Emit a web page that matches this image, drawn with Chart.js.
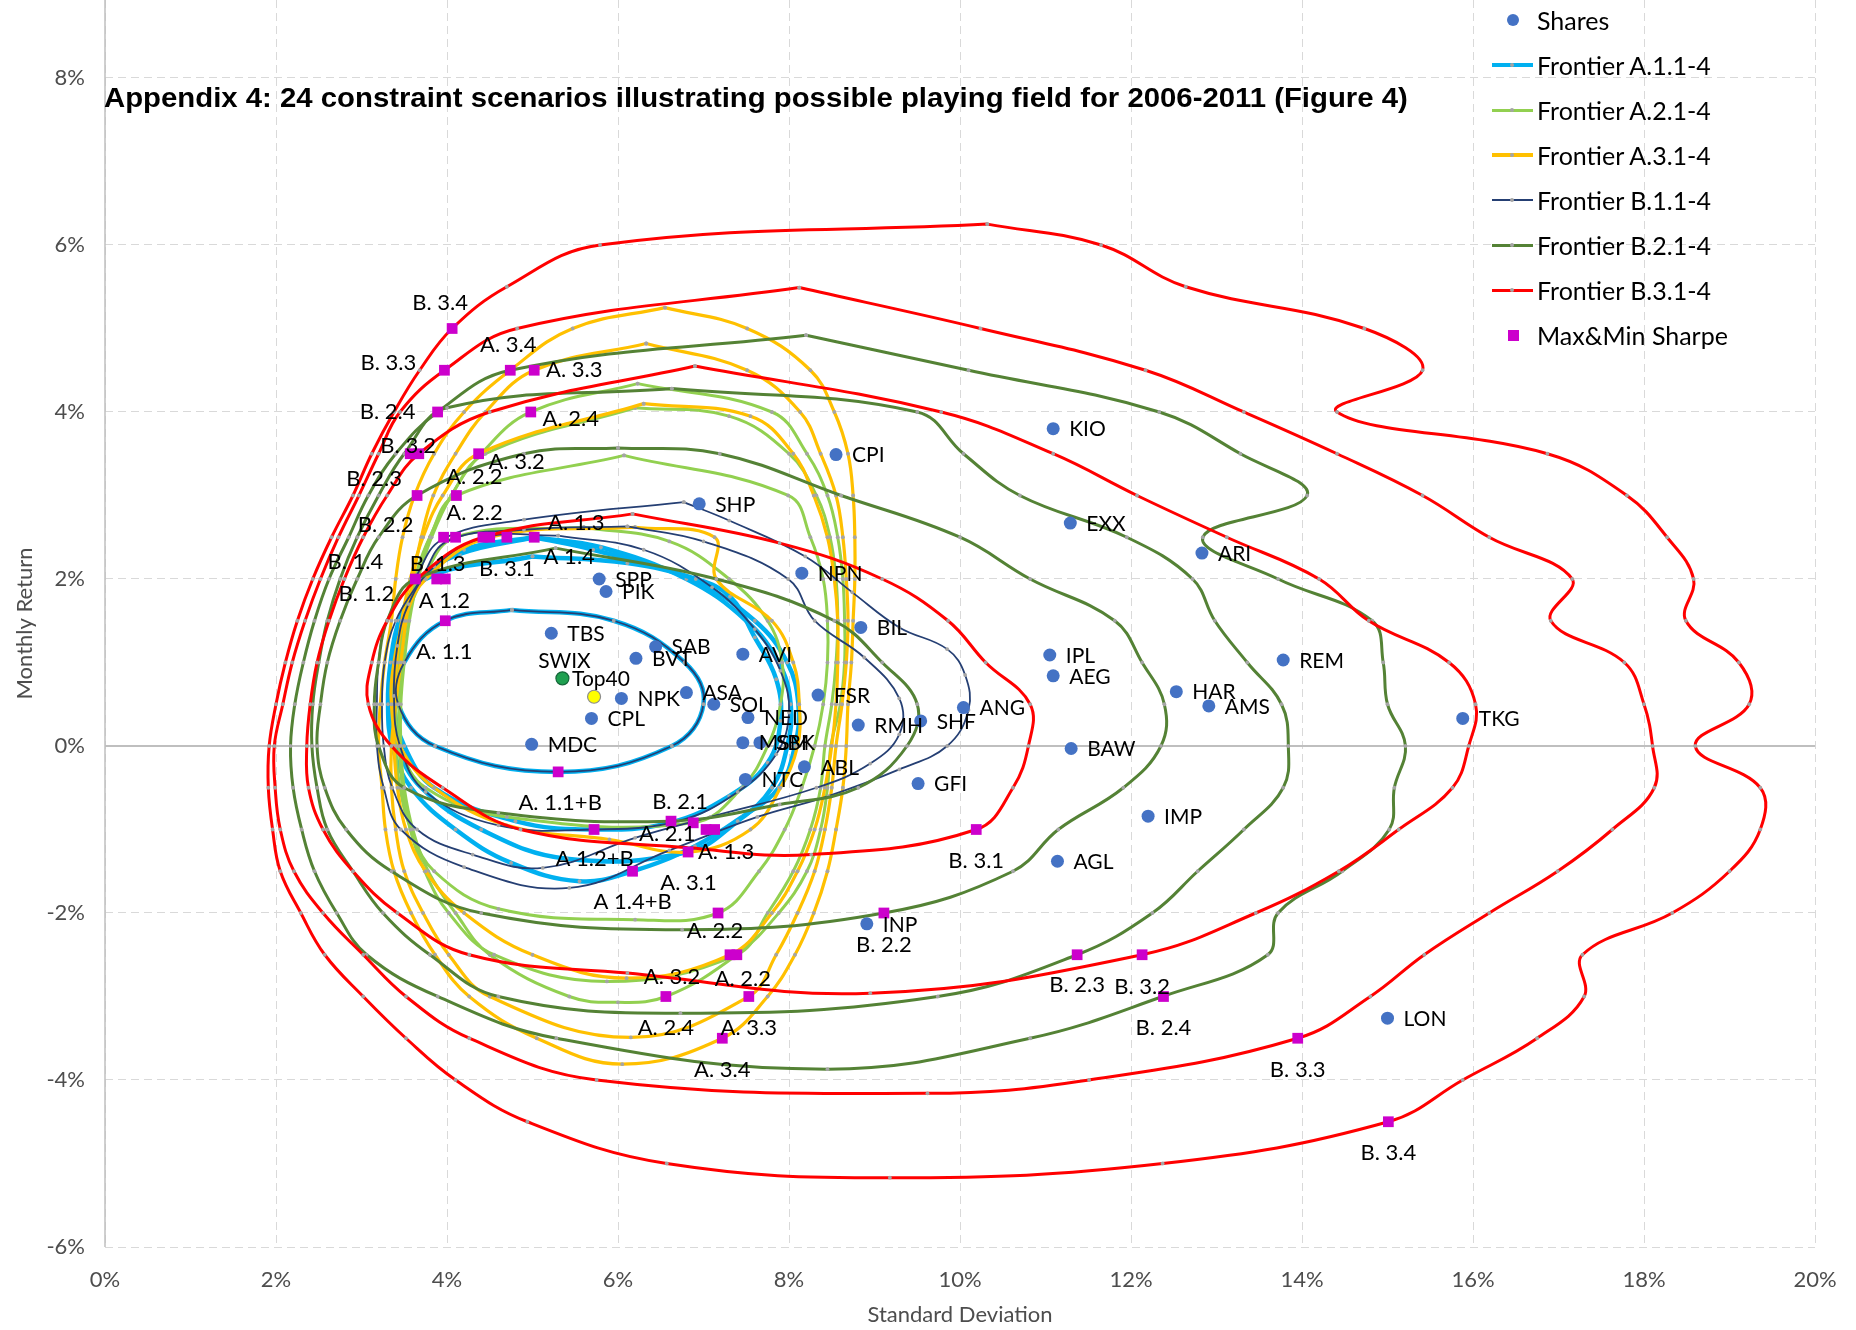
<!DOCTYPE html>
<html>
<head>
<meta charset="utf-8">
<title>Appendix 4 – 24 constraint scenarios</title>
<script src="https://cdn.jsdelivr.net/npm/chart.js@4.4.1/dist/chart.umd.min.js"></script>
<style>
  html, body { margin: 0; padding: 0; background: #fff; }
  #wrap { position: relative; width: 1856px; height: 1330px; overflow: hidden; }
  #chart { position: absolute; left: 0; top: 0; }
  #title { position: absolute; left: 104px; top: 82px; font-family: "Liberation Sans", Arial, sans-serif;
           font-weight: bold; font-size: 28px; line-height: 32px; white-space: nowrap;
           transform-origin: 0 50%; color: #000; }
  #legend { position: absolute; left: 0; top: 0; width: 1856px; height: 400px; pointer-events: none;
            font-family: Lato, "Open Sans", sans-serif; font-size: 25px; color: #000; }
  .lg-item { position: absolute; left: 1490px; height: 40px; display: flex; align-items: center; white-space: nowrap; }
  .lg-mark { position: relative; width: 44px; height: 40px; margin-right: 3px; flex: none; }
</style>
</head>
<body>
<div id="wrap">
  <canvas id="chart" width="1856" height="1330"></canvas>
  <div id="title"></div>
  <div id="legend"></div>
</div>
<script>
// ---------- text ----------
const chartTitle = 'Appendix 4: 24 constraint scenarios illustrating possible playing field for 2006-2011 (Figure 4)';
const xTitle = 'Standard Deviation';
const yTitle = 'Monthly Return';

// ---------- axes (percent) ----------
const xTickValues = [0, 2, 4, 6, 8, 10, 12, 14, 16, 18, 20];
const yTickValues = [-6, -4, -2, 0, 2, 4, 6, 8];

// ---------- individual shares: standard deviation / monthly return (%) ----------
const shareNames = ['KIO','CPI','EXX','ARI','SHP','NPN','SPP','PIK','BIL','TBS','SAB','BVT','AVI','IPL','REM','AEG',
  'SWIX','Top40','NPK','ASA','SOL','FSR','HAR','AMS','ANG','CPL','NED','RMH','SHF','TKG','MDC','MSM','SBK','BAW',
  'ABL','NTC','GFI','IMP','AGL','INP','LON'];
const shareSD = [11.09,8.55,11.29,12.83,6.95,8.15,5.78,5.86,8.84,5.22,6.44,6.21,7.46,11.05,13.78,11.09,
  5.35,5.72,6.04,6.80,7.12,8.34,12.53,12.91,10.04,5.69,7.52,8.81,9.54,15.88,4.99,7.46,7.66,11.30,
  8.18,7.49,9.51,12.20,11.14,8.91,15.00];
const shareRet = [3.80,3.49,2.67,2.31,2.90,2.07,2.00,1.85,1.42,1.35,1.19,1.05,1.10,1.09,1.03,0.84,
  0.81,0.59,0.57,0.64,0.50,0.61,0.65,0.48,0.46,0.33,0.34,0.25,0.30,0.33,0.02,0.04,0.04,-0.03,
  -0.25,-0.40,-0.45,-0.84,-1.38,-2.13,-3.26];

// ---------- maximum / minimum Sharpe portfolios ----------
const sharpeSD = [4.06,3.97,4.74,5.02,3.89,4.98,3.57,3.67,4.37,3.65,4.11,3.96,4.10,4.42,4.50,4.70,5.02,3.63,3.88,3.98,
  3.98,5.30,5.72,6.62,6.88,7.03,7.13,6.82,6.17,7.17,9.11,7.31,7.39,11.37,12.13,6.56,7.53,12.38,7.22,13.95,15.01,10.19];
const sharpeRet = [5.0,4.5,4.5,4.5,4.0,4.0,3.5,3.5,3.5,3.0,3.0,2.5,2.5,2.5,2.5,2.5,2.5,2.0,2.0,2.0,
  1.5,-0.31,-1.0,-0.90,-0.92,-1.0,-1.0,-1.27,-1.5,-2.0,-2.0,-2.5,-2.5,-2.5,-2.5,-3.0,-3.0,-3.0,-3.5,-3.5,-4.5,-1.0];
// [portfolio index, label]
const sharpeLabelText = [[0,'B. 3.4'],[1,'B. 3.3'],[2,'A. 3.4'],[3,'A. 3.3'],[4,'B. 2.4'],[5,'A. 2.4'],[6,'B. 3.2'],
  [8,'A. 3.2'],[9,'B. 2.3'],[10,'A. 2.2'],[11,'B. 2.2'],[12,'A. 2.2'],[13,'B. 3.1'],[16,'A. 1.3'],[16,'A 1.4'],
  [17,'B. 1.4'],[17,'B. 1.2'],[18,'B. 1.3'],[20,'A 1.2'],[20,'A. 1.1'],[21,'A. 1.1+B'],[23,'B. 2.1'],[24,'A. 2.1'],
  [27,'A. 1.3'],[28,'A 1.2+B'],[28,'A. 3.1'],[28,'A 1.4+B'],[29,'A. 2.2'],[30,'B. 2.2'],[31,'A. 3.2'],[32,'A. 2.2'],
  [33,'B. 2.3'],[34,'B. 3.2'],[35,'A. 2.4'],[36,'A. 3.3'],[37,'B. 2.4'],[38,'A. 3.4'],[39,'B. 3.3'],[40,'B. 3.4'],[41,'B. 3.1']];

// ---------- frontiers: [standard deviation, return] in % ----------
const frontierA11 = [[4.76,1.63],[3.98,1.5],[3.50,1.0],[3.43,0.5],[3.86,0.0],[5.31,-0.31],[6.63,0.0],[7.00,0.5],[6.78,1.0],[5.95,1.5],[4.76,1.63]];
const frontierA12 = [[5.00,2.27],[3.75,2.0],[3.50,1.5],[3.40,1.0],[3.38,0.5],[3.50,0.0],[3.85,-0.5],[4.80,-0.90],[5.72,-1.0],[6.60,-0.92],
  [7.30,-0.60],[7.75,-0.20],[7.90,0.30],[7.85,0.80],[7.60,1.30],[7.31,1.79],[6.91,2.0],[6.11,2.19],[5.00,2.27]];
const frontierA13 = [[5.02,2.5],[4.20,2.35],[3.72,2.0],[3.47,1.5],[3.38,1.0],[3.35,0.5],[3.42,0.0],[3.70,-0.5],[4.40,-1.0],[5.40,-1.35],
  [6.82,-1.27],[7.40,-0.90],[7.80,-0.5],[7.98,0.0],[8.02,0.5],[7.88,1.0],[7.50,1.5],[6.80,2.0],[5.80,2.38],[5.02,2.5]];
const frontierA14 = [[5.02,2.5],[4.15,2.3],[3.70,2.0],[3.44,1.5],[3.34,1.0],[3.31,0.5],[3.36,0.0],[3.58,-0.5],[4.10,-1.0],[4.75,-1.4],
  [5.55,-1.62],[6.17,-1.5],[6.90,-1.20],[7.45,-0.85],[7.88,-0.5],[8.07,0.0],[8.11,0.5],[7.98,1.0],[7.60,1.5],[6.85,2.0],[5.71,2.35],[5.02,2.5]];

const frontierA21 = [[5.60,2.62],[4.10,2.5],[3.72,2.0],[3.52,1.5],[3.42,1.0],[3.40,0.5],[3.45,0.0],[3.75,-0.5],[4.70,-0.85],[6.88,-0.92],
  [7.45,-0.5],[7.75,0.0],[7.90,0.5],[7.92,1.0],[7.75,1.5],[7.30,2.0],[6.60,2.45],[5.60,2.62]];
const frontierA22 = [[6.07,3.48],[4.11,3.0],[3.80,2.5],[3.62,2.0],[3.50,1.5],[3.44,1.0],[3.40,0.5],[3.40,0.0],[3.45,-0.5],[3.58,-1.0],
  [3.85,-1.5],[4.60,-1.95],[6.20,-2.08],[7.17,-2.0],[7.65,-1.5],[7.95,-1.0],[8.15,-0.5],[8.30,0.0],[8.40,0.5],[8.45,1.0],[8.45,1.5],
  [8.40,2.0],[8.25,2.5],[7.99,3.0],[6.07,3.48]];
const frontierA23 = [[6.20,4.05],[4.45,3.5],[4.05,3.0],[3.80,2.5],[3.63,2.0],[3.53,1.5],[3.47,1.0],[3.44,0.5],[3.44,0.0],[3.48,-0.5],
  [3.57,-1.0],[3.74,-1.5],[4.02,-2.0],[4.55,-2.5],[5.87,-2.82],[7.39,-2.5],[7.75,-2.0],[8.05,-1.5],[8.25,-1.0],[8.37,-0.5],[8.42,0.0],
  [8.50,0.5],[8.55,1.0],[8.57,1.5],[8.55,2.0],[8.48,2.5],[8.32,3.0],[8.00,3.5],[7.30,3.95],[6.20,4.05]];
const frontierA24 = [[6.23,4.34],[4.98,4.0],[4.40,3.5],[4.05,3.0],[3.82,2.5],[3.66,2.0],[3.56,1.5],[3.50,1.0],[3.46,0.5],[3.46,0.0],
  [3.50,-0.5],[3.60,-1.0],[3.78,-1.5],[4.10,-2.0],[4.50,-2.5],[5.43,-3.0],[6.00,-3.07],[6.56,-3.0],[7.39,-2.5],[7.88,-2.0],[8.21,-1.5],
  [8.37,-1.0],[8.45,-0.5],[8.49,0.0],[8.60,0.5],[8.65,1.0],[8.65,1.5],[8.63,2.0],[8.57,2.5],[8.45,3.0],[8.21,3.5],[7.80,4.0],[6.23,4.34]];

const frontierA31 = [[6.20,2.62],[4.50,2.5],[3.75,2.0],[3.50,1.5],[3.38,1.0],[3.35,0.5],[3.45,0.0],[3.85,-0.5],[4.70,-0.95],[5.90,-1.12],
  [6.82,-1.27],[7.55,-1.0],[7.90,-0.5],[8.10,0.0],[8.12,0.5],[8.05,1.0],[7.80,1.5],[7.15,2.0],[7.13,2.5],[6.20,2.62]];
const frontierA32 = [[6.30,4.10],[4.37,3.5],[3.95,3.0],[3.72,2.5],[3.57,2.0],[3.47,1.5],[3.41,1.0],[3.38,0.5],[3.38,0.0],[3.42,-0.5],
  [3.52,-1.0],[3.75,-1.5],[4.20,-2.0],[5.00,-2.5],[6.10,-2.78],[7.31,-2.5],[7.80,-2.0],[8.10,-1.5],[8.30,-1.0],[8.42,-0.5],[8.50,0.0],
  [8.55,0.5],[8.57,1.0],[8.57,1.5],[8.53,2.0],[8.45,2.5],[8.29,3.0],[8.05,3.5],[7.55,3.95],[6.30,4.10]];
const frontierA33 = [[6.33,4.82],[5.02,4.5],[4.45,4.0],[4.10,3.5],[3.84,3.0],[3.70,2.5],[3.60,2.0],[3.52,1.5],[3.46,1.0],[3.40,0.5],
  [3.35,0.0],[3.35,-0.5],[3.40,-1.0],[3.50,-1.5],[3.72,-2.0],[4.02,-2.5],[4.50,-3.0],[6.15,-3.49],[7.53,-3.0],[7.85,-2.5],[8.10,-2.0],
  [8.30,-1.5],[8.42,-1.0],[8.50,-0.5],[8.55,0.0],[8.62,0.5],[8.67,1.0],[8.69,1.5],[8.67,2.0],[8.63,2.5],[8.55,3.0],[8.37,3.5],[8.13,4.0],
  [7.51,4.5],[6.33,4.82]];
const frontierA34 = [[6.55,5.25],[5.47,5.0],[4.74,4.5],[4.20,4.0],[3.85,3.5],[3.62,3.0],[3.48,2.5],[3.40,2.0],[3.35,1.5],[3.27,1.0],
  [3.22,0.5],[3.20,0.0],[3.24,-0.5],[3.28,-1.0],[3.38,-1.5],[3.58,-2.0],[3.86,-2.5],[4.26,-3.0],[5.05,-3.5],[6.05,-3.81],[7.22,-3.5],
  [7.75,-3.0],[8.07,-2.5],[8.29,-2.0],[8.45,-1.5],[8.55,-1.0],[8.63,-0.5],[8.67,0.0],[8.69,0.5],[8.73,1.0],[8.75,1.5],[8.77,2.0],
  [8.77,2.5],[8.75,3.0],[8.69,3.5],[8.53,4.0],[8.25,4.5],[7.51,5.0],[6.55,5.25]];

const frontierB11 = [[4.76,1.63],[3.98,1.5],[3.50,1.0],[3.43,0.5],[3.86,0.0],[5.31,-0.31],[6.63,0.0],[7.00,0.5],[6.78,1.0],[5.95,1.5],[4.76,1.63]];
const frontierB12 = [[5.30,2.52],[4.45,2.5],[3.85,2.15],[3.55,1.7],[3.42,1.2],[3.38,0.6],[3.45,0.0],[3.75,-0.55],[4.60,-0.95],[5.72,-1.0],
  [6.70,-0.90],[7.40,-0.55],[7.85,-0.10],[8.00,0.40],[7.90,0.90],[7.60,1.40],[7.10,1.90],[6.30,2.35],[5.30,2.52]];
const frontierB13 = [[6.11,2.63],[4.90,2.59],[4.00,2.45],[3.70,2.0],[3.40,1.5],[3.27,1.0],[3.24,0.5],[3.26,0.0],[3.36,-0.5],[3.65,-1.0],
  [4.30,-1.30],[5.12,-1.46],[6.20,-1.10],[7.08,-0.85],[8.32,-0.5],[8.95,-0.21],[9.29,0.14],[9.29,0.57],[8.88,1.06],[8.30,1.5],[7.99,2.0],
  [7.00,2.45],[6.11,2.63]];
const frontierB14 = [[6.77,2.92],[4.90,2.71],[3.94,2.47],[3.62,2.0],[3.30,1.5],[3.20,1.0],[3.18,0.5],[3.18,0.0],[3.26,-0.5],[3.46,-1.0],
  [4.20,-1.45],[5.43,-1.70],[6.60,-1.25],[7.63,-0.85],[8.46,-0.6],[9.29,-0.28],[9.85,0.0],[10.10,0.43],[10.06,0.85],[9.85,1.16],
  [9.29,1.42],[8.74,1.84],[8.19,2.27],[7.30,2.70],[6.77,2.92]];

const frontierB21 = [[5.27,2.37],[3.63,2.0],[3.30,1.5],[3.20,1.0],[3.15,0.5],[3.20,0.0],[3.50,-0.5],[4.60,-0.80],[6.62,-0.90],[7.89,-0.70],
  [8.81,-0.5],[9.38,0.0],[9.50,0.5],[9.09,1.0],[8.53,1.5],[7.15,2.0],[5.27,2.37]];
const frontierB22 = [[6.00,3.57],[4.90,3.5],[3.65,3.0],[3.20,2.5],[2.95,2.0],[2.75,1.5],[2.60,1.0],[2.52,0.5],[2.48,0.0],[2.57,-0.5],
  [2.82,-1.0],[3.35,-1.5],[4.40,-2.0],[6.75,-2.20],[9.11,-2.0],[10.62,-1.5],[11.15,-1.0],[11.91,-0.5],[12.35,0.0],[12.39,0.5],
  [12.13,1.0],[11.81,1.5],[10.82,2.0],[10.00,2.5],[8.61,3.0],[7.19,3.5],[6.00,3.57]];
const frontierB23 = [[6.63,4.28],[4.00,4.05],[3.50,3.5],[3.20,3.0],[2.95,2.5],[2.75,2.0],[2.60,1.5],[2.50,1.0],[2.43,0.5],[2.42,0.0],
  [2.48,-0.5],[2.60,-1.0],[2.90,-1.5],[3.25,-2.0],[3.80,-2.5],[4.60,-3.0],[6.73,-3.20],[9.74,-3.0],[11.37,-2.5],[12.25,-2.0],
  [12.78,-1.5],[13.32,-1.0],[13.78,-0.5],[13.84,0.0],[13.76,0.5],[13.36,1.0],[12.98,1.5],[12.72,2.0],[11.95,2.5],[10.70,3.0],
  [10.04,3.5],[9.50,4.0],[6.63,4.28]];
const frontierB24 = [[8.20,4.92],[4.74,4.5],[3.89,4.0],[3.40,3.5],[3.08,3.0],[2.85,2.5],[2.62,2.0],[2.45,1.5],[2.32,1.0],[2.22,0.5],
  [2.17,0.0],[2.20,-0.5],[2.30,-1.0],[2.45,-1.5],[2.71,-2.0],[3.06,-2.5],[3.89,-3.0],[5.28,-3.5],[8.45,-3.87],[10.82,-3.5],[12.37,-3.0],
  [13.60,-2.5],[13.72,-2.0],[14.47,-1.5],[15.02,-1.0],[15.08,-0.5],[15.21,0.0],[15.00,0.5],[14.95,1.0],[14.82,1.5],[13.72,2.0],
  [12.84,2.5],[14.06,3.0],[13.28,3.5],[12.33,4.0],[10.10,4.5],[8.20,4.92]];

const frontierB31 = [[6.17,2.78],[4.42,2.5],[3.65,2.0],[3.30,1.5],[3.12,1.0],[3.08,0.5],[3.35,0.0],[3.95,-0.5],[4.86,-1.0],[6.83,-1.22],
  [8.26,-1.30],[10.19,-1.0],[10.62,-0.5],[10.80,0.0],[10.82,0.5],[10.30,1.0],[9.86,1.5],[9.09,2.0],[7.89,2.43],[6.17,2.78]];
const frontierB32 = [[6.90,4.55],[4.50,4.0],[3.67,3.5],[3.30,3.0],[3.02,2.5],[2.80,2.0],[2.62,1.5],[2.48,1.0],[2.40,0.5],[2.36,0.0],
  [2.38,-0.5],[2.55,-1.0],[2.90,-1.5],[3.42,-2.0],[4.26,-2.5],[6.11,-2.72],[8.95,-2.96],[12.13,-2.5],[13.46,-2.0],[14.43,-1.5],
  [15.13,-1.0],[15.76,-0.5],[15.95,0.0],[16.03,0.5],[15.72,1.0],[14.78,1.5],[14.20,2.0],[13.12,2.5],[12.07,3.0],[11.09,3.5],
  [9.78,4.0],[6.90,4.55]];
const frontierB33 = [[8.12,5.49],[4.82,5.0],[3.97,4.5],[3.45,4.0],[3.20,3.5],[2.97,3.0],[2.73,2.5],[2.52,2.0],[2.34,1.5],[2.19,1.0],
  [2.08,0.5],[1.98,0.0],[1.99,-0.5],[2.05,-1.0],[2.21,-1.5],[2.55,-2.0],[3.02,-2.5],[3.52,-3.0],[4.26,-3.5],[5.75,-4.0],[9.62,-4.16],
  [11.51,-4.0],[13.95,-3.5],[14.80,-3.0],[15.43,-2.5],[16.19,-2.0],[16.99,-1.5],[17.63,-1.0],[18.12,-0.5],[18.10,0.0],[18.00,0.5],
  [17.77,1.0],[16.91,1.5],[17.16,2.0],[16.19,2.5],[15.41,3.0],[14.41,3.5],[13.32,4.0],[12.17,4.5],[10.24,5.0],[8.12,5.49]];
const frontierB34 = [[10.32,6.25],[5.79,6.0],[4.70,5.5],[4.06,5.0],[3.68,4.5],[3.38,4.0],[3.12,3.5],[2.90,3.0],[2.65,2.5],[2.43,2.0],
  [2.25,1.5],[2.11,1.0],[2.00,0.5],[1.92,0.0],[1.91,-0.5],[1.96,-1.0],[2.05,-1.5],[2.29,-2.0],[2.57,-2.5],[3.02,-3.0],[3.52,-3.5],
  [4.10,-4.0],[4.94,-4.5],[6.57,-5.0],[9.18,-5.17],[12.37,-5.0],[15.01,-4.5],[15.88,-4.0],[16.75,-3.5],[17.30,-3.0],[17.28,-2.5],
  [18.33,-2.0],[19.00,-1.5],[19.36,-1.0],[19.36,-0.5],[18.60,0.0],[19.23,0.5],[19.11,1.0],[18.49,1.5],[18.58,2.0],[18.27,2.5],
  [17.80,3.0],[16.87,3.5],[14.41,4.0],[15.41,4.5],[14.73,5.0],[12.64,5.5],[11.65,6.0],[10.32,6.25]];

// ---------- styling / layout ----------
const families = [
  { name: 'Frontier A.1.1-4', color: '#00B0F0', width: 4.5, order: 9, curves: [frontierA11, frontierA12, frontierA13, frontierA14] },
  { name: 'Frontier A.2.1-4', color: '#92D050', width: 3,   order: 8, curves: [frontierA21, frontierA22, frontierA23, frontierA24] },
  { name: 'Frontier A.3.1-4', color: '#FFC000', width: 3.2, order: 7, curves: [frontierA31, frontierA32, frontierA33, frontierA34] },
  { name: 'Frontier B.1.1-4', color: '#253F73', width: 1.8, order: 6, curves: [frontierB11, frontierB12, frontierB13, frontierB14] },
  { name: 'Frontier B.2.1-4', color: '#548235', width: 3,   order: 5, curves: [frontierB21, frontierB22, frontierB23, frontierB24] },
  { name: 'Frontier B.3.1-4', color: '#FF0000', width: 3,   order: 4, curves: [frontierB31, frontierB32, frontierB33, frontierB34] }
];
const shareColor = '#4472C4';
const shareSpecial = { SWIX: { fill: '#1FA050', stroke: '#16673A' }, Top40: { fill: '#FFFF00', stroke: '#8C8C8C' } };
const sharpeColor = '#CC00CC';
const markerGrey = '#A5A5A5';
// label centre offsets (px) for the Sharpe labels, same order as sharpeLabelText
const sharpeLabelOffset = [[-12,-26],[-56,-7],[-2,-25],[40,0],[-50,0],[40,7],[-2,-8],[38,8],[-43,-17],[18,-19],[-58,-12],
  [19,-24],[24,32],[42,-14],[35,20],[-60,-17],[-49,15],[1,-15],[-1,-20],[-1,31],[2,31],[9,-19],[-26,11],[38,0],[-38,-12],
  [56,12],[0,31],[-3,18],[0,32],[-58,22],[6,24],[0,30],[0,32],[0,31],[0,31],[0,31],[0,32],[0,32],[0,31],[0,31]];
// share label placement: [dx, dy, align]; default to the right of the dot
const shareLabelPlacement = { SWIX: [2, -17, 'center'], Top40: [-22, -17, 'left'] };

// ---------- datasets ----------
const datasets = [];
families.forEach(f => {
  f.curves.forEach(c => {
    datasets.push({
      label: f.name,
      data: c.map(([x, y]) => ({ x, y })),
      showLine: true,
      borderColor: f.color,
      borderWidth: f.width,
      tension: 0.4,
      fill: false,
      borderJoinStyle: 'round',
      pointRadius: 1.9,
      pointBackgroundColor: markerGrey,
      pointBorderWidth: 0,
      pointHoverRadius: 0,
      order: f.order
    });
  });
});
datasets.push({
  label: 'Shares',
  data: shareSD.map((x, i) => ({ x, y: shareRet[i] })),
  showLine: false,
  pointRadius: 6.5,
  pointBackgroundColor: shareNames.map(n => shareSpecial[n] ? shareSpecial[n].fill : shareColor),
  pointBorderColor: shareNames.map(n => shareSpecial[n] ? shareSpecial[n].stroke : shareColor),
  pointBorderWidth: shareNames.map(n => shareSpecial[n] ? 1.2 : 0),
  order: 2
});
datasets.push({
  label: 'Max&Min Sharpe',
  data: sharpeSD.map((x, i) => ({ x, y: sharpeRet[i] })),
  showLine: false,
  pointStyle: 'rect',
  pointRadius: 7.6,
  pointBackgroundColor: sharpeColor,
  pointBorderWidth: 0,
  order: 1
});

// ---------- plugins ----------
const axisLines = {
  id: 'axisLines',
  beforeDatasetsDraw(chart) {
    const { ctx, chartArea: a, scales: { x, y } } = chart;
    ctx.save();
    ctx.strokeStyle = '#BFBFBF';
    ctx.lineWidth = 2;
    const y0 = Math.round(y.getPixelForValue(0));
    ctx.beginPath(); ctx.moveTo(a.left, y0); ctx.lineTo(a.right, y0); ctx.stroke();
    ctx.lineWidth = 1.5;
    const x0 = x.getPixelForValue(0);
    ctx.beginPath(); ctx.moveTo(x0, a.top); ctx.lineTo(x0, a.bottom); ctx.stroke();
    ctx.restore();
  }
};

const pointLabels = {
  id: 'pointLabels',
  afterDatasetsDraw(chart) {
    const { ctx, scales: { x, y } } = chart;
    ctx.save();
    ctx.fillStyle = '#000';
    ctx.textBaseline = 'middle';
    ctx.font = '21px Lato, "Open Sans", sans-serif';
    shareNames.forEach((n, i) => {
      const px = x.getPixelForValue(shareSD[i]);
      const py = y.getPixelForValue(shareRet[i]);
      const [dx, dy, align] = shareLabelPlacement[n] || [16, 1, 'left'];
      ctx.textAlign = align;
      ctx.fillText(n, px + dx, py + dy);
    });
    ctx.font = '22px Lato, "Open Sans", sans-serif';
    ctx.textAlign = 'center';
    sharpeLabelText.forEach(([idx, text], k) => {
      const px = x.getPixelForValue(sharpeSD[idx]);
      const py = y.getPixelForValue(sharpeRet[idx]);
      const [dx, dy] = sharpeLabelOffset[k];
      ctx.fillText(text, px + dx, py + dy);
    });
    ctx.restore();
  }
};

function pct(v) { return v + '%'; }

function buildChart() {
  const tickFont = { family: 'Lato', size: 22 };
  new Chart(document.getElementById('chart'), {
    type: 'scatter',
    data: { datasets },
    options: {
      responsive: false,
      animation: false,
      devicePixelRatio: 1,
      events: [],
      layout: { autoPadding: false, padding: { left: 0, right: 41, top: 0, bottom: 0 } },
      plugins: { legend: { display: false }, tooltip: { enabled: false } },
      scales: {
        x: {
          type: 'linear', min: 0, max: 20,
          afterBuildTicks: s => { s.ticks = xTickValues.map(v => ({ value: v })); },
          afterFit: s => { s.height = 83; s.paddingLeft = 0; s.paddingRight = 0; },
          grid: { color: '#D9D9D9', lineWidth: 1, drawTicks: false },
          border: { display: false, dash: [8, 5] },
          ticks: { callback: pct, color: '#4D4D4D', font: tickFont, padding: 20, maxRotation: 0, autoSkip: false },
          title: { display: true, text: xTitle, color: '#4D4D4D', font: { family: 'Lato', size: 22 }, padding: { top: 0, bottom: 2 } }
        },
        y: {
          type: 'linear', min: -6, max: 8.934,
          afterBuildTicks: s => { s.ticks = yTickValues.map(v => ({ value: v })); },
          afterFit: s => { s.width = 105; s.paddingTop = 0; s.paddingBottom = 0; },
          grid: { color: '#D9D9D9', lineWidth: 1, drawTicks: false },
          border: { display: false, dash: [8, 5] },
          ticks: { callback: pct, color: '#4D4D4D', font: tickFont, padding: 20, autoSkip: false },
          title: { display: true, text: yTitle, color: '#4D4D4D', font: { family: 'Lato', size: 22 }, padding: { top: 12, bottom: 0 } }
        }
      }
    },
    plugins: [axisLines, pointLabels]
  });
}

function buildTitle() {
  const t = document.getElementById('title');
  t.textContent = chartTitle;
  const natural = t.scrollWidth;
  t.style.transform = 'scaleX(' + (1304 / natural) + ')';
}

function buildLegend() {
  const box = document.getElementById('legend');
  const items = [{ name: 'Shares', kind: 'dot', color: shareColor }]
    .concat(families.map(f => ({ name: f.name, kind: 'line', color: f.color, width: f.width })))
    .concat([{ name: 'Max&Min Sharpe', kind: 'square', color: sharpeColor }]);
  items.forEach((it, i) => {
    const row = document.createElement('div');
    row.className = 'lg-item';
    row.style.top = (0 + i * 45) + 'px';
    const mark = document.createElement('div');
    mark.className = 'lg-mark';
    if (it.kind === 'line') {
      const ln = document.createElement('div');
      ln.style.cssText = `position:absolute;left:2px;width:41px;top:${20 - it.width / 2}px;height:${it.width}px;background:${it.color};`;
      const d = document.createElement('div');
      d.style.cssText = `position:absolute;left:20px;top:18px;width:4px;height:4px;border-radius:2px;background:${markerGrey};`;
      mark.appendChild(ln); mark.appendChild(d);
    } else if (it.kind === 'dot') {
      const d = document.createElement('div');
      d.style.cssText = `position:absolute;left:17px;top:14px;width:12px;height:12px;border-radius:6px;background:${it.color};`;
      mark.appendChild(d);
    } else {
      const d = document.createElement('div');
      d.style.cssText = `position:absolute;left:18px;top:15px;width:11px;height:11px;background:${it.color};`;
      mark.appendChild(d);
    }
    const txt = document.createElement('span');
    txt.textContent = it.name;
    row.appendChild(mark); row.appendChild(txt);
    box.appendChild(row);
  });
}

function start() { buildChart(); buildTitle(); buildLegend(); }
const fontsReady = document.fonts
  ? Promise.all(['22px Lato', 'bold 28px "Liberation Sans"'].map(f => document.fonts.load(f)))
  : Promise.resolve();
fontsReady.then(start, start);
</script>
</body>
</html>
